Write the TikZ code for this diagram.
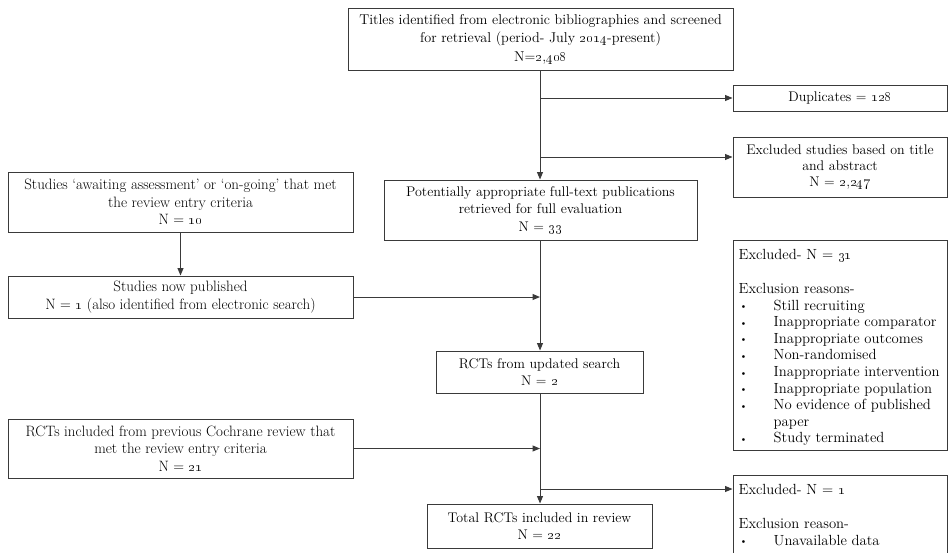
\documentclass[tikz,border=0pt]{standalone}
\usetikzlibrary{arrows.meta,calc}
\definecolor{linec}{HTML}{3A3A3A}
\newcommand\fsA{\fontsize{14.2}{18.5}\selectfont}
\newcommand\fsB{\fontsize{14}{17.5}\selectfont}
\newcommand\fsE{\fontsize{14}{16}\selectfont}
\newcommand\fsC{\fontsize{15}{17.5}\selectfont}
\newcommand\os[1]{\oldstylenums{#1}}
\newcommand\bl{\makebox[35pt][l]{\hspace*{1pt}\raisebox{0.5pt}{\scalebox{0.7}{\textbullet}}}}
\tikzset{
  box/.style={draw=linec, line width=1pt, inner sep=0pt, align=center, font=\fsB},
  arr/.style={draw=linec, line width=1pt, -{Triangle[length=7.5pt,width=6pt]}},
  listtext/.style={inner sep=0pt, align=left, anchor=north west, font=\fontsize{14.7}{16.6}\selectfont}
}
\begin{document}
\begin{tikzpicture}[x=1pt,y=-1pt]
\useasboundingbox[fill=white] (0,0) rectangle (950,552);
\node[box, font=\fsA, minimum width=385pt, minimum height=62pt] (top) at (540.5,39)
  {Titles identified from electronic bibliographies and screened\\for retrieval (period- July \os{2014}-present)\\N=\os{2},\os{408}};
\node[box, minimum width=214pt, minimum height=26pt] (dup) at (840,98) {Duplicates = \os{128}};
\node[box, font=\fsE, minimum width=214pt, minimum height=60pt] (exc) at (840,167)
  {Excluded studies based on title\\and abstract\\N = \os{2},\os{247}};
\node[box, font=\fsC, minimum width=345pt, minimum height=60pt] (aw) at (180.5,202)
  {Studies `awaiting assessment' or `on-going' that met\\the review entry criteria\\N = \os{10}};
\node[box, minimum width=313pt, minimum height=60pt] (pot) at (540.5,210)
  {Potentially appropriate full-text publications\\retrieved for full evaluation\\N = \os{33}};
\node[box, font=\fsC, minimum width=345pt, minimum height=42pt] (pub) at (180.5,297)
  {Studies now published\\N = \os{1} (also identified from electronic search)};
\node[box, minimum width=214pt, minimum height=210pt] (ex31) at (840,345) {};
\node[listtext] (ex31t) at ($(ex31.north west)+(6,10)$)
  {Excluded- N = \os{31}\\[17pt]
   Exclusion reasons-\\
   \bl Still recruiting\\
   \bl Inappropriate comparator\\
   \bl Inappropriate outcomes\\
   \bl Non-randomised\\
   \bl Inappropriate intervention\\
   \bl Inappropriate population\\
   \bl No evidence of published\\
   \hspace*{35pt}paper\\
   \bl Study terminated};
\node[box, minimum width=207pt, minimum height=42pt] (rct) at (539.5,372)
  {RCTs from updated search\\N = \os{2}};
\node[box, font=\fsC, minimum width=345pt, minimum height=59pt] (prev) at (180.5,448.5)
  {RCTs included from previous Cochrane review that\\met the review entry criteria\\N = \os{21}};
\node[box, minimum width=214pt, minimum height=81pt] (ex1) at (840,515.5) {};
\node[listtext] (ex1t) at ($(ex1.north west)+(6,10)$)
  {Excluded- N = \os{1}\\[17pt]
   Exclusion reason-\\
   \bl Unavailable data};
\node[box, minimum width=225pt, minimum height=44pt] (tot) at (539.5,526)
  {Total RCTs included in review\\N = \os{22}};
\coordinate (j1) at (540,98);
\coordinate (j2) at (540,157);
\coordinate (j3) at (540,489);
% connectors
\draw[arr] (top.south -| j1) -- (pot.north -| j1);
\draw[arr] (j1) -- (j1 -| dup.west);
\draw[arr] (j2) -- (j2 -| exc.west);
\draw[arr] (aw.south) -- (pub.north);
\draw[arr] (pub.east) -- (pub.east -| j1);
\draw[arr] (pot.south -| j1) -- (rct.north -| j1);
\draw[arr] (prev.east) -- (prev.east -| j1);
\draw[arr] (rct.south -| j1) -- (tot.north -| j1);
\draw[arr] (j3) -- (j3 -| ex1.west);
\end{tikzpicture}
\end{document}
